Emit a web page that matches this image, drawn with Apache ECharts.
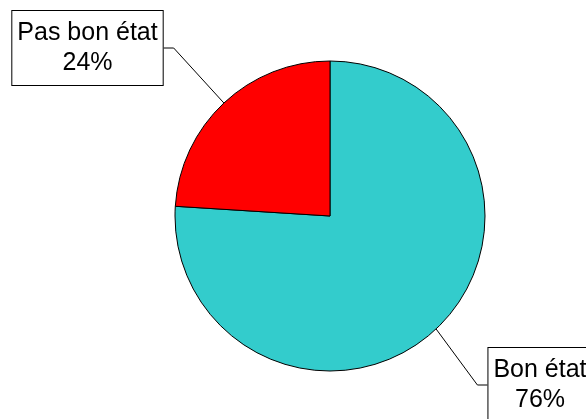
<!DOCTYPE html>
<html>
<head>
<meta charset="utf-8">
<script src="https://cdn.jsdelivr.net/npm/echarts@6/dist/echarts.min.js"></script>
<style>
html,body{margin:0;padding:0;background:#fff;}
#chart{width:586px;height:419px;}
</style>
</head>
<body>
<div id="chart"></div>
<script>
const categories = ['Bon état', 'Pas bon état'];
const values = [76, 24];
const percentLabels = ['76%', '24%'];
const colors = ['#33CCCC', '#FF0000'];

const chart = echarts.init(document.getElementById('chart'), null, {renderer: 'canvas'});
const labelSpots = [
  {x: 540, y: 385},
  {x: 87.5, y: 48}
];
chart.setOption({
  animation: false,
  backgroundColor: '#ffffff',
  series: [{
    type: 'pie',
    center: [330, 216],
    radius: 155,
    startAngle: 90,
    clockwise: true,
    data: categories.map((c, i) => ({
      name: c,
      value: values[i],
      itemStyle: {color: colors[i]}
    })),
    itemStyle: {borderColor: '#000', borderWidth: 1},
    label: {
      show: true,
      position: 'outside',
      formatter: p => p.name + '\n' + percentLabels[p.dataIndex],
      fontFamily: 'Liberation Sans, Arial, sans-serif',
      fontSize: 25,
      lineHeight: 30,
      color: '#000',
      align: 'center',
      backgroundColor: '#fff',
      borderColor: '#000',
      borderWidth: 1,
      padding: [7, 5, 7, 5]
    },
    labelLine: {
      show: true,
      length: 20,
      length2: 10,
      lineStyle: {color: '#000', width: 1}
    },
    labelLayout: function (params) {
      const s = labelSpots[params.dataIndex];
      return {x: s.x, y: s.y, align: 'center', verticalAlign: 'middle'};
    },
    emphasis: {disabled: true}
  }]
});
</script>
</body>
</html>
